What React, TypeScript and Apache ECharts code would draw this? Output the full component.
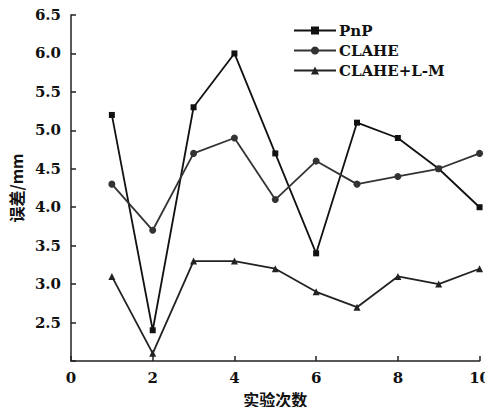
import React, { useEffect, useRef } from "react";
import * as echarts from "echarts";

const xValues = [1, 2, 3, 4, 5, 6, 7, 8, 9, 10];
const pnp = [5.2, 2.4, 5.3, 6.0, 4.7, 3.4, 5.1, 4.9, 4.5, 4.0];
const clahe = [4.3, 3.7, 4.7, 4.9, 4.1, 4.6, 4.3, 4.4, 4.5, 4.7];
const claheLM = [3.1, 2.1, 3.3, 3.3, 3.2, 2.9, 2.7, 3.1, 3.0, 3.2];
const seriesNames = ["PnP", "CLAHE", "CLAHE+L-M"];

const serif = "'DejaVu Serif', 'Liberation Serif', serif";
const cjk = "'Noto Sans CJK SC', sans-serif";

export default function App() {
  const ref = useRef<HTMLDivElement>(null);
  useEffect(() => {
    if (!ref.current) return;
    const chart = echarts.init(ref.current, undefined, { renderer: "svg" });
    const mk = (vals: number[]) => xValues.map((x, i) => [x, vals[i]]);
    const baseSeries = (name: string, vals: number[], symbol: string, size: number, color: string) => ({
      name,
      type: "line",
      data: mk(vals),
      symbol,
      symbolSize: size,
      showAllSymbol: true,
      lineStyle: { color, width: 1.8 },
      itemStyle: { color },
    });
    chart.setOption({
      animation: false,
      backgroundColor: "#fff",
      grid: { left: 65, right: 10, top: 15, bottom: 54 },
      legend: {
        orient: "vertical",
        left: 288,
        top: 18,
        itemWidth: 42,
        itemHeight: 10,
        itemGap: 5,
        data: seriesNames,
        textStyle: { fontFamily: serif, fontWeight: "bold", fontSize: 15, color: "#111", padding: [0, 0, 0, -2] },
      },
      xAxis: {
        type: "value",
        min: 0,
        max: 10,
        interval: 2,
        name: "实验次数",
        nameLocation: "middle",
        nameGap: 30,
        nameTextStyle: { fontFamily: cjk, fontWeight: "bold", fontSize: 16, color: "#111" },
        axisLine: { lineStyle: { color: "#222", width: 1.5 } },
        axisTick: { inside: true, length: 5, lineStyle: { color: "#222", width: 1.5 } },
        axisLabel: { fontFamily: serif, fontWeight: "bold", fontSize: 15, color: "#111", margin: 9 },
        splitLine: { show: false },
      },
      yAxis: {
        type: "value",
        min: 2,
        max: 6.5,
        interval: 0.5,
        name: "误差/mm",
        nameLocation: "middle",
        nameGap: 47,
        nameRotate: 90,
        nameTextStyle: { fontFamily: cjk, fontWeight: "bold", fontSize: 16, color: "#111" },
        axisLine: { show: true, lineStyle: { color: "#222", width: 1.5 } },
        axisTick: { show: true, inside: true, length: 5, lineStyle: { color: "#222", width: 1.5 } },
        axisLabel: {
          fontFamily: serif,
          fontWeight: "bold",
          fontSize: 15,
          color: "#111",
          margin: 10,
          formatter: (v: number) => (v <= 2 ? "" : v.toFixed(1)),
        },
        splitLine: { show: false },
      },
      series: [
        baseSeries("PnP", pnp, "rect", 6, "#111"),
        baseSeries("CLAHE", clahe, "circle", 7, "#333"),
        baseSeries("CLAHE+L-M", claheLM, "triangle", 7, "#222"),
      ],
    });
    return () => chart.dispose();
  }, []);
  return <div ref={ref} style={{ width: 493, height: 415, margin: -8 }} />;
}
